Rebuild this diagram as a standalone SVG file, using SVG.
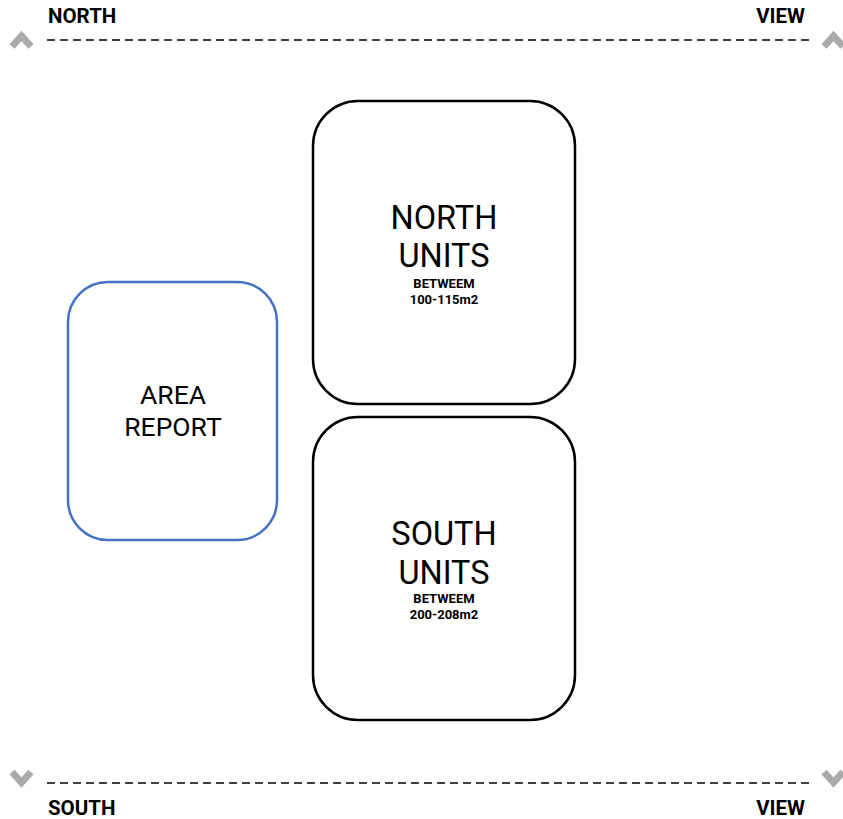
<svg xmlns="http://www.w3.org/2000/svg" width="843" height="819" viewBox="0 0 843 819">
<style>
.box{fill:#fff;stroke:#000;stroke-width:2.5}
.blue{fill:#fff;stroke:#4472C4;stroke-width:2.5}
.big{font-family:Roboto,"Liberation Sans",sans-serif;font-size:32.5px;fill:#000;text-anchor:middle}
.mid{font-family:Roboto,"Liberation Sans",sans-serif;font-size:26.5px;fill:#000;text-anchor:middle}
.small{font-family:Roboto,"Liberation Sans",sans-serif;font-size:13px;font-weight:bold;fill:#000;text-anchor:middle}
.hdr{font-family:Roboto,"Liberation Sans",sans-serif;font-size:20.5px;font-weight:bold;fill:#000}
.dash{stroke:#000;stroke-width:1.5;stroke-dasharray:8 5;fill:none}
.chev{fill:none;stroke:#aaa;stroke-width:7}
</style>
<rect width="843" height="819" fill="#fff"/>
<g id="north-view">
<text class="hdr" x="48" y="23">NORTH</text>
<text class="hdr" x="805" y="23" text-anchor="end">VIEW</text>
<line class="dash" x1="47" y1="40" x2="812" y2="40"/>
<polyline class="chev" points="12,46.5 21.5,36 31,46.5"/>
<polyline class="chev" points="824,46.5 833.5,36 843,46.5"/>
</g>
<g id="south-view">
<text class="hdr" x="48" y="815">SOUTH</text>
<text class="hdr" x="805" y="815" text-anchor="end">VIEW</text>
<line class="dash" x1="47" y1="783" x2="812" y2="783"/>
<polyline class="chev" points="12,772 21.5,782.5 31,772"/>
<polyline class="chev" points="824,772 833.5,782.5 843,772"/>
</g>
<g id="north-units">
<rect class="box" x="313" y="101" width="262" height="303" rx="45" ry="45"/>
<text class="big" x="444" y="229">NORTH</text>
<text class="big" x="444" y="267">UNITS</text>
<text class="small" x="444" y="288">BETWEEM</text>
<text class="small" x="444" y="304">100-115m2</text>
</g>
<g id="south-units">
<rect class="box" x="313" y="417" width="262" height="303" rx="45" ry="45"/>
<text class="big" x="444" y="545">SOUTH</text>
<text class="big" x="444" y="584">UNITS</text>
<text class="small" x="444" y="603">BETWEEM</text>
<text class="small" x="444" y="619">200-208m2</text>
</g>
<g id="area-report">
<rect class="blue" x="68" y="282" width="209" height="258" rx="40" ry="40"/>
<text class="mid" x="173" y="404">AREA</text>
<text class="mid" x="173" y="436">REPORT</text>
</g>
<g id="connectors"></g>
</svg>
